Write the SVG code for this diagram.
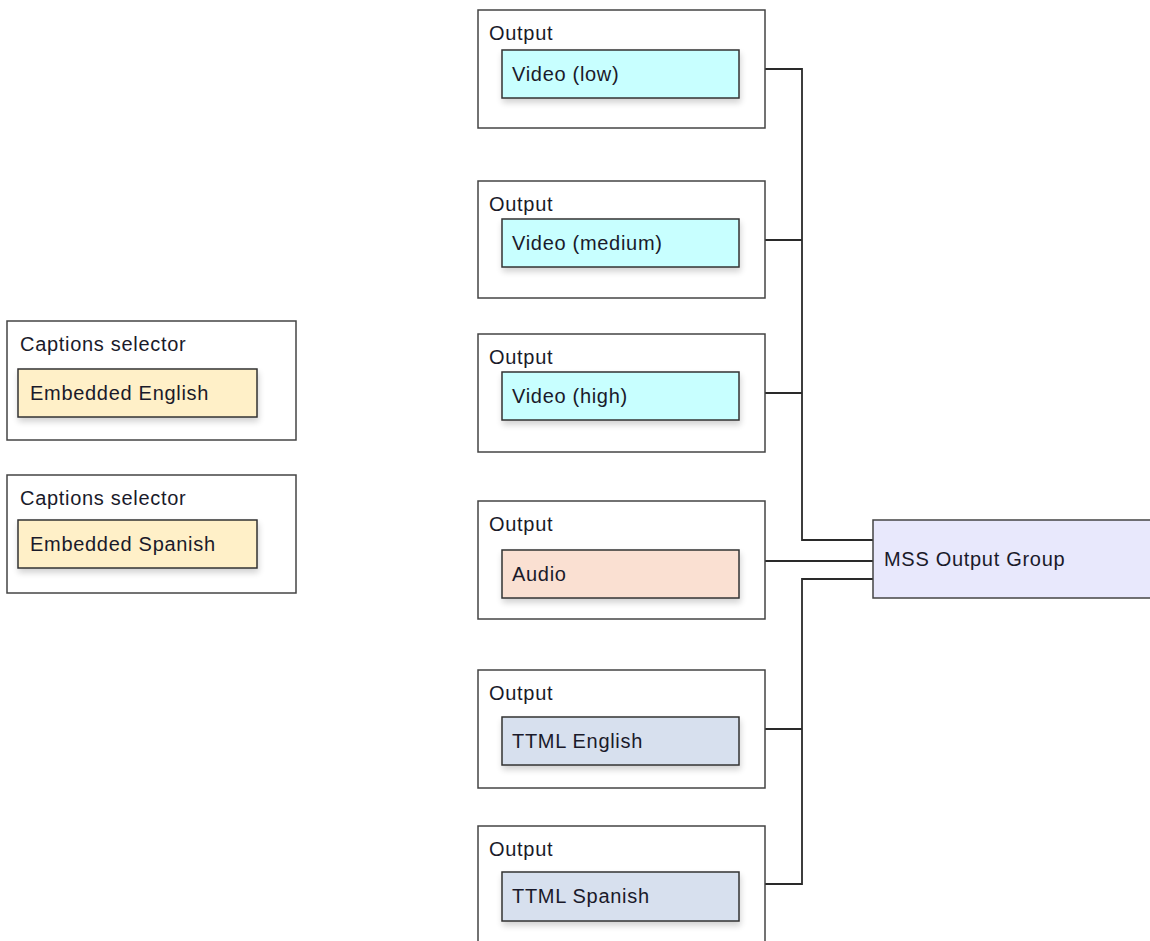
<svg xmlns="http://www.w3.org/2000/svg" width="1150" height="941" viewBox="0 0 1150 941">
<style>
.outer{fill:#fff;stroke:#444;stroke-width:1.5}
.inner{stroke:#333;stroke-width:1.5;filter:url(#sh)}
.lbl{font-family:"Liberation Sans",Arial,sans-serif;font-size:20px;letter-spacing:0.7px;fill:#1a1a2a}
.vid{fill:#c8ffff}
.aud{fill:#fae0d2}
.ttml{fill:#d7e0ee}
.emb{fill:#fff0c8}
.mss{fill:#e8e8fc;stroke:#444;stroke-width:1.5}
.conn{fill:none;stroke:#2a2a2a;stroke-width:1.8}
</style>
<defs>
<filter id="sh" x="-10%" y="-20%" width="125%" height="160%">
<feGaussianBlur in="SourceAlpha" stdDeviation="3"/>
<feOffset dx="1" dy="4" result="b"/>
<feComponentTransfer><feFuncA type="linear" slope="0.18"/></feComponentTransfer>
<feMerge><feMergeNode/><feMergeNode in="SourceGraphic"/></feMerge>
</filter>
</defs>
<g id="connectors">
<path class="conn" d="M765,69 H802 V540 H873"/>
<path class="conn" d="M765,240 H802"/>
<path class="conn" d="M765,393 H802"/>
<path class="conn" d="M765,561 H873"/>
<path class="conn" d="M873,579 H802 V884 H765"/>
<path class="conn" d="M765,729 H802"/>
</g>
<g id="cap1">
<rect class="outer" x="7" y="321" width="289" height="119"/>
<text class="lbl" x="20" y="351">Captions selector</text>
<rect class="inner emb" x="18" y="369" width="239" height="48"/>
<text class="lbl" x="30" y="400">Embedded English</text>
</g>
<g id="cap2">
<rect class="outer" x="7" y="475" width="289" height="118"/>
<text class="lbl" x="20" y="505">Captions selector</text>
<rect class="inner emb" x="18" y="520" width="239" height="48"/>
<text class="lbl" x="30" y="551">Embedded Spanish</text>
</g>
<g id="out1">
<rect class="outer" x="478" y="10" width="287" height="118"/>
<text class="lbl" x="489" y="40">Output</text>
<rect class="inner vid" x="502" y="50" width="237" height="48"/>
<text class="lbl" x="512" y="81">Video (low)</text>
</g>
<g id="out2">
<rect class="outer" x="478" y="181" width="287" height="117"/>
<text class="lbl" x="489" y="211">Output</text>
<rect class="inner vid" x="502" y="219" width="237" height="48"/>
<text class="lbl" x="512" y="250">Video (medium)</text>
</g>
<g id="out3">
<rect class="outer" x="478" y="334" width="287" height="118"/>
<text class="lbl" x="489" y="364">Output</text>
<rect class="inner vid" x="502" y="372" width="237" height="48"/>
<text class="lbl" x="512" y="403">Video (high)</text>
</g>
<g id="out4">
<rect class="outer" x="478" y="501" width="287" height="118"/>
<text class="lbl" x="489" y="531">Output</text>
<rect class="inner aud" x="502" y="550" width="237" height="48"/>
<text class="lbl" x="512" y="581">Audio</text>
</g>
<g id="out5">
<rect class="outer" x="478" y="670" width="287" height="118"/>
<text class="lbl" x="489" y="700">Output</text>
<rect class="inner ttml" x="502" y="717" width="237" height="48"/>
<text class="lbl" x="512" y="748">TTML English</text>
</g>
<g id="out6">
<rect class="outer" x="478" y="826" width="287" height="130"/>
<text class="lbl" x="489" y="856">Output</text>
<rect class="inner ttml" x="502" y="872" width="237" height="49"/>
<text class="lbl" x="512" y="903">TTML Spanish</text>
</g>
<g id="mss">
<rect class="mss" x="873" y="520" width="290" height="78"/>
<text class="lbl" x="884" y="566">MSS Output Group</text>
</g>
</svg>
